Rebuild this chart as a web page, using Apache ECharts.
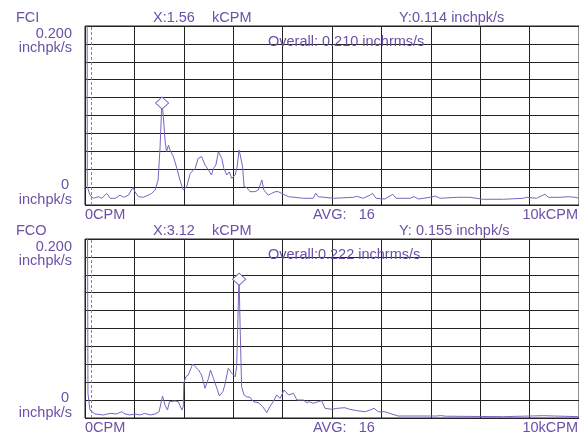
<!DOCTYPE html>
<html><head><meta charset="utf-8">
<script src="https://cdn.jsdelivr.net/npm/echarts@6/dist/echarts.min.js"></script>
<style>html,body{margin:0;padding:0;background:#fff}#c{width:579px;height:436px}</style>
</head><body><div id="c"></div>
<script>
// ---- data (kCPM, inchpk/s) ----
const fciFreq = [0.04,0.047,0.10,0.17,0.27,0.34,0.44,0.51,0.61,0.71,0.78,0.88,0.97,1.01,1.08,1.18,1.28,1.35,1.42,1.48,1.52,1.55,1.56,1.585,1.62,1.65,1.69,1.72,1.79,1.86,1.92,1.99,2.06,2.13,2.23,2.29,2.36,2.43,2.50,2.56,2.60,2.65,2.70,2.73,2.77,2.81,2.87,2.92,2.97,3.04,3.08,3.12,3.15,3.19,3.22,3.27,3.34,3.44,3.51,3.58,3.62,3.71,3.78,3.85,3.91,3.98,4.12,4.42,4.62,4.67,4.72,5.03,5.43,5.50,5.63,5.77,5.82,5.89,6.07,6.23,6.30,6.58,6.66,6.75,6.98,7.09,7.19,7.52,7.79,8.06,8.47,8.87,8.94,9.14,9.31,9.38,9.62,9.78,9.92,10.0];
const fciAmp = [0.45,0.0205,0.011,0.0075,0.0093,0.0075,0.013,0.0075,0.0075,0.011,0.0086,0.011,0.0198,0.0149,0.0093,0.0086,0.011,0.013,0.0168,0.028,0.065,0.106,0.114,0.099,0.0726,0.0596,0.067,0.0615,0.054,0.041,0.028,0.0168,0.0205,0.0354,0.041,0.052,0.054,0.0447,0.039,0.0335,0.041,0.0447,0.0596,0.0578,0.052,0.041,0.0335,0.037,0.0298,0.0335,0.0428,0.0615,0.062,0.0428,0.0205,0.0198,0.0149,0.0149,0.0168,0.028,0.0168,0.011,0.013,0.0149,0.0149,0.013,0.0093,0.0075,0.0075,0.013,0.0093,0.0075,0.0086,0.0097,0.0075,0.011,0.013,0.0075,0.0067,0.012,0.0075,0.0075,0.0093,0.0067,0.0086,0.010,0.0075,0.0086,0.0086,0.0064,0.0064,0.0075,0.0086,0.0075,0.012,0.0086,0.0086,0.0093,0.0086,0.0075];
const fcoFreq = [0.04,0.06,0.10,0.20,0.37,0.51,0.64,0.74,0.81,0.91,1.01,1.11,1.21,1.32,1.42,1.50,1.57,1.62,1.67,1.71,1.75,1.82,1.89,1.96,1.99,2.00,2.04,2.09,2.13,2.18,2.23,2.30,2.36,2.43,2.50,2.54,2.60,2.67,2.72,2.79,2.83,2.90,2.97,3.04,3.07,3.09,3.11,3.12,3.14,3.17,3.22,3.27,3.34,3.41,3.51,3.60,3.68,3.74,3.81,3.88,3.95,4.03,4.12,4.22,4.29,4.42,4.49,4.54,4.62,4.72,4.79,4.86,5.00,5.10,5.26,5.36,5.50,5.67,5.77,5.85,5.94,6.07,6.17,6.34,7.12,7.20,7.30,8.47,9.28,9.50,10.0];
const fcoAmp = [0.45,0.0276,0.0089,0.0045,0.0034,0.0052,0.0045,0.007,0.0045,0.0034,0.0045,0.0034,0.0052,0.0034,0.0045,0.007,0.0246,0.0145,0.0089,0.0182,0.0201,0.019,0.0182,0.0089,0.0126,0.0388,0.0461,0.048,0.0536,0.0603,0.0573,0.0536,0.048,0.0332,0.0443,0.0536,0.0443,0.0332,0.0246,0.0294,0.0369,0.0555,0.05,0.0461,0.0573,0.0983,0.143,0.155,0.102,0.035,0.0257,0.0238,0.0231,0.0182,0.0171,0.0126,0.0059,0.0126,0.0182,0.0257,0.022,0.0313,0.0257,0.0276,0.0201,0.0201,0.0171,0.0182,0.0164,0.0182,0.0193,0.0108,0.0097,0.0108,0.0115,0.0097,0.0082,0.007,0.0089,0.0108,0.007,0.007,0.0052,0.0022,0.0022,0.0027,0.002,0.0015,0.0026,0.0022,0.0015];
const panelNames = ['FCI','FCO'];
const peakX = [1.56, 3.12];
const peakY = [0.114, 0.155];
const peakYText = ['Y:0.114 inchpk/s','Y: 0.155 inchpk/s'];
const overallText = ['Overall: 0.210 inchrms/s','Overall:0.222 inchrms/s'];
const cutoffFreq = 0.115;
const yTopLabel = '0.200';
const yBottomLabel = '0';
const yUnit = 'inchpk/s';
const xStartLabel = '0CPM';
const xEndLabel = '10kCPM';
const xUnit = 'kCPM';
const avgText = 'AVG:   16';
const xMin = 0, xMax = 10, xStep = 1;
const yMin = 0, yMax = 0.2, yStep = 0.02;

// ---- layout ----
const TXT = '#6a50a8', LINE = '#7c62c0', GRIDC = '#222';
const FONT = '14.5px "Liberation Sans", Arial, sans-serif';
const panels = [{top:26}, {top:239}];
const GL = 85, GW = 494, GH = 179;

const chart = echarts.init(document.getElementById('c'), null, {renderer:'canvas'});
const grids = [], xAxes = [], yAxes = [], series = [], graphics = [];
const dataSets = [[fciFreq, fciAmp], [fcoFreq, fcoAmp]];

function txt(x, y, s, align) {
  graphics.push({type:'text', x:x, y:y, z:1,
    style:{text:s, fill:TXT, font:FONT, textAlign:align||'left', textVerticalAlign:'middle'}});
}

panels.forEach((p, i) => {
  grids.push({left:GL, top:p.top, width:GW, height:GH, show:true, borderColor:GRIDC, borderWidth:1, backgroundColor:'transparent'});
  xAxes.push({type:'value', gridIndex:i, min:xMin, max:xMax, interval:xStep,
    axisLine:{show:false}, axisTick:{show:false}, axisLabel:{show:false},
    splitLine:{show:true, lineStyle:{color:GRIDC, width:1}}});
  yAxes.push({type:'value', gridIndex:i, min:yMin, max:yMax, interval:yStep,
    axisLine:{show:false}, axisTick:{show:false}, axisLabel:{show:false},
    splitLine:{show:true, lineStyle:{color:GRIDC, width:1}}});
  const [f, a] = dataSets[i];
  series.push({type:'line', xAxisIndex:i, yAxisIndex:i, data:f.map((v,k)=>[v,a[k]]),
    showSymbol:false, symbol:'none', clip:true, animation:false,
    lineStyle:{color:LINE, width:1}, z:3,
    markPoint:{symbol:'diamond', symbolSize:[13,12], silent:true, animation:false,
      itemStyle:{color:'#fff', borderColor:LINE, borderWidth:1},
      label:{show:false}, data:[{coord:[peakX[i], peakY[i]]}]},
    markLine:{symbol:'none', silent:true, animation:false, label:{show:false},
      lineStyle:{color:'#8a7cc0', type:[3,2], width:1},
      data:[{xAxis:cutoffFreq}]}
  });
  const t = p.top;
  txt(16, t-8, panelNames[i]);
  txt(153, t-8, 'X:' + peakX[i].toFixed(2));
  txt(212, t-8, xUnit);
  txt(399, t-8, peakYText[i]);
  txt(268, t+15.5, overallText[i]);
  txt(72, t+7.5, yTopLabel, 'right');
  txt(72, t+22, yUnit, 'right');
  txt(69, t+GH-20, yBottomLabel, 'right');
  txt(72, t+GH-5, yUnit, 'right');
  txt(85, t+GH+10, xStartLabel);
  txt(313, t+GH+10, avgText);
  txt(578, t+GH+10, xEndLabel, 'right');
});

chart.setOption({animation:false, backgroundColor:'#fff', grid:grids, xAxis:xAxes, yAxis:yAxes, series:series, graphic:graphics});
</script></body></html>
